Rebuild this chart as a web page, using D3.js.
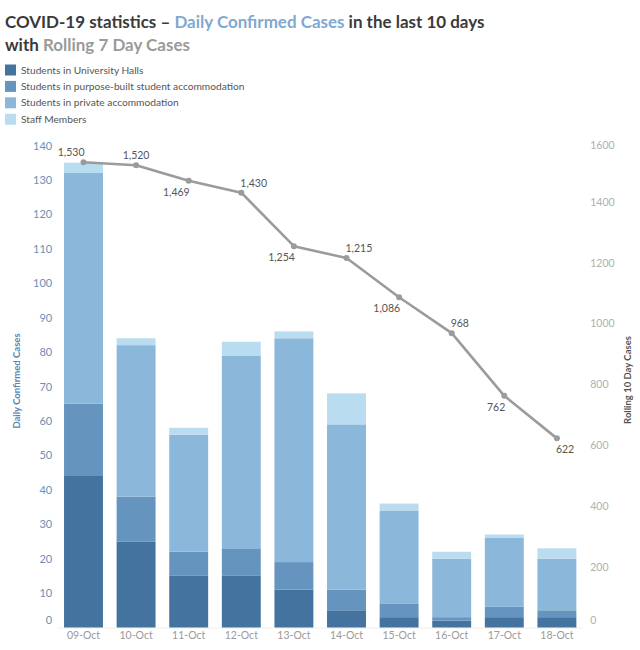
<!DOCTYPE html>
<html>
<head>
<meta charset="utf-8">
<script src="https://cdn.jsdelivr.net/npm/d3@7"></script>
<style>
  html, body { margin: 0; padding: 0; background: #fff; }
  svg { display: block; font-family: Lato, "Open Sans", sans-serif; }
</style>
</head>
<body>
<svg id="chart" width="640" height="650"></svg>
<script>
// ---- data ----
const days = ["09-Oct","10-Oct","11-Oct","12-Oct","13-Oct","14-Oct","15-Oct","16-Oct","17-Oct","18-Oct"];
const seriesNames = ["Students in University Halls","Students in purpose-built student accommodation","Students in private accommodation","Staff Members"];
const halls   = [44, 25, 15, 15, 11, 5, 3, 2, 3, 3];
const pbsa    = [21, 13, 7, 8, 8, 6, 4, 1, 3, 2];
const privateAcc = [67, 44, 34, 56, 65, 48, 27, 17, 20, 15];
const staff   = [3, 2, 2, 4, 2, 9, 2, 2, 1, 3];
const rolling = [1530, 1520, 1469, 1430, 1254, 1215, 1086, 968, 762, 622];
const leftTicks = [0,10,20,30,40,50,60,70,80,90,100,110,120,130,140];
const rightTicks = [0,200,400,600,800,1000,1200,1400,1600];

// ---- style ----
const colors = ["#44739f", "#6594be", "#8bb7da", "#badcf0"];
const labelPlace = ["above-end","above-middle","below-end","above-start","below-end","above-start","below-end","above-start","below-end","below-start"];

const svg = d3.select("#chart");
const plot = { left: 57.2, right: 583.2, top: 141, bottom: 627.5 };

const x = d3.scaleBand().domain(days).range([plot.left, plot.right]).paddingInner(0.26).paddingOuter(0.13);
const yL = d3.scaleLinear().domain([0, 141.3]).range([plot.bottom, plot.top]);
const yR = d3.scaleLinear().domain([0, 1600]).range([plot.bottom, plot.top]);

// ---- title ----
const title = svg.append("text").attr("x", 5).attr("y", 28)
  .attr("font-weight", 700).attr("font-size", 17).attr("fill", "#3a3a3a");
title.append("tspan").text("COVID-19 statistics \u2013 ");
title.append("tspan").attr("fill", "#7fa9cf").text("Daily Confirmed Cases");
title.append("tspan").text(" in the last 10 days");
const title2 = svg.append("text").attr("x", 5).attr("y", 51)
  .attr("font-weight", 700).attr("font-size", 17).attr("fill", "#3a3a3a");
title2.append("tspan").text("with ");
title2.append("tspan").attr("fill", "#9a9a9a").text("Rolling 7 Day Cases");
// fit title width to reference
const w1 = title.node().getComputedTextLength();
const fs = 17 * 480 / w1;
title.attr("font-size", fs);
title2.attr("font-size", fs);

// ---- legend ----
const legend = svg.append("g");
seriesNames.forEach((name, i) => {
  const cy = 70 + i * 16.4;
  legend.append("rect").attr("x", 5).attr("y", cy - 5.5).attr("width", 11).attr("height", 11).attr("fill", colors[i]);
  legend.append("text").attr("x", 21).attr("y", cy + 3.5).attr("font-size", 10.2).attr("fill", "#555").text(name);
});

// ---- baseline ----
svg.append("line").attr("x1", plot.left).attr("x2", plot.right)
  .attr("y1", plot.bottom + 0.5).attr("y2", plot.bottom + 0.5).attr("stroke", "#eee");

// ---- stacked bars ----
const table = days.map((d, i) => ({ day: d, s0: halls[i], s1: pbsa[i], s2: privateAcc[i], s3: staff[i] }));
const stack = d3.stack().keys(["s0","s1","s2","s3"])(table);
svg.append("g").selectAll("g").data(stack).join("g")
  .attr("fill", (d, i) => colors[i])
  .selectAll("rect").data(d => d).join("rect")
  .attr("x", d => x(d.data.day))
  .attr("width", x.bandwidth())
  .attr("y", d => yL(d[1]))
  .attr("height", d => yL(d[0]) - yL(d[1]));

// ---- left axis ----
const axL = svg.append("g").attr("transform", `translate(${plot.left - 5},0)`)
  .call(d3.axisLeft(yL).tickValues(leftTicks).tickSize(0).tickPadding(0));
axL.select(".domain").remove();
axL.selectAll("text").attr("font-size", 11).attr("fill", "#6d8fb5").attr("font-family", "Lato, sans-serif")
  .attr("dy", d => d === 0 ? "-0.4em" : "0.32em");

// ---- right axis ----
const axR = svg.append("g").attr("transform", `translate(${plot.right + 7},0)`)
  .call(d3.axisRight(yR).tickValues(rightTicks).tickSize(0).tickPadding(0).tickFormat(d3.format("d")));
axR.select(".domain").remove();
axR.selectAll("text").attr("font-size", 10.5).attr("fill", "#b0b0b0").attr("font-family", "Lato, sans-serif")
  .attr("dy", d => d === 0 ? "-0.4em" : (d === 1600 ? "0.7em" : "0.32em"));

// ---- x axis ----
const axX = svg.append("g").attr("transform", `translate(0,${plot.bottom + 4})`)
  .call(d3.axisBottom(x).tickSize(0).tickPadding(0));
axX.select(".domain").remove();
axX.selectAll("text").attr("font-size", 10.5).attr("fill", "#9a9a9a").attr("font-family", "Lato, sans-serif");

// ---- axis titles ----
svg.append("text").attr("transform", "translate(20,381) rotate(-90)")
  .attr("text-anchor", "middle").attr("font-size", 9.5).attr("font-weight", 700)
  .attr("fill", "#5a84b0").text("Daily Confirmed Cases");
svg.append("text").attr("transform", "translate(631,380) rotate(-90)")
  .attr("text-anchor", "middle").attr("font-size", 9.5).attr("font-weight", 700)
  .attr("fill", "#555").text("Rolling 10 Day Cases");

// ---- rolling line ----
const cx = d => x(d) + x.bandwidth() / 2;
const line = d3.line().x((v, i) => cx(days[i])).y(v => yR(v));
svg.append("path").datum(rolling).attr("d", line)
  .attr("fill", "none").attr("stroke", "#9b9b9b").attr("stroke-width", 2.6).attr("stroke-linejoin", "round");
svg.append("g").selectAll("circle").data(rolling).join("circle")
  .attr("cx", (v, i) => cx(days[i])).attr("cy", v => yR(v)).attr("r", 3).attr("fill", "#9b9b9b");

const fmt = d3.format(",");
svg.append("g").selectAll("text").data(rolling).join("text")
  .attr("font-size", 10.5).attr("fill", "#555")
  .attr("x", (v, i) => {
    const p = labelPlace[i].split("-")[1];
    return cx(days[i]) + (p === "end" ? 1 : p === "start" ? -1 : 0);
  })
  .attr("y", (v, i) => yR(v) + (labelPlace[i].startsWith("above") ? -6 : 15))
  .attr("text-anchor", (v, i) => labelPlace[i].split("-")[1])
  .text(v => fmt(v));
</script>
</body>
</html>
